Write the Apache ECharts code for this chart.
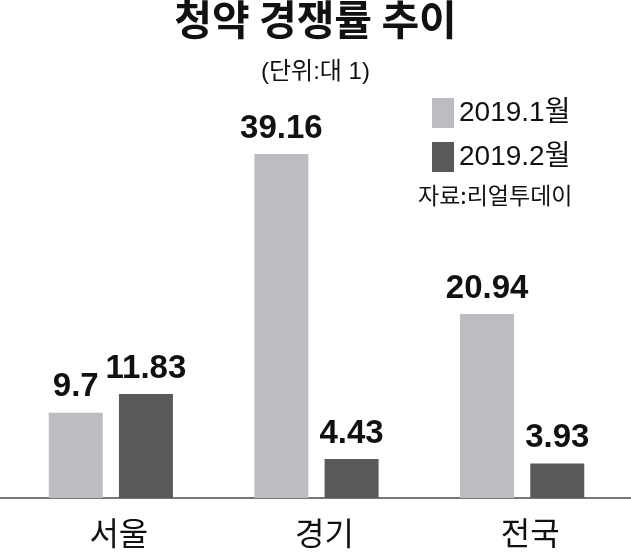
<!DOCTYPE html>
<html><head><meta charset="utf-8">
<script src="https://cdn.jsdelivr.net/npm/echarts@6/dist/echarts.min.js"></script>
<style>html,body{margin:0;padding:0;background:#fff}#c{width:631px;height:553px}</style>
</head><body><div id="c"></div>
<script>
const categories = ['서울', '경기', '전국'];
const seriesNames = ['2019.1월', '2019.2월'];
const jan = [9.7, 39.16, 20.94];
const feb = [11.83, 4.43, 3.93];

const KR = '"Noto Sans CJK KR", "Noto Sans", sans-serif';
const NUM = '"Liberation Sans", Arial, sans-serif';

const chart = echarts.init(document.getElementById('c'), null, {renderer: 'canvas'});
const labelStyle = {
  show: true, position: 'top', distance: 9,
  fontFamily: NUM, fontWeight: 'bold', fontSize: 33, color: '#111'
};
chart.setOption({
  animation: false,
  backgroundColor: '#fff',
  title: [
    {text: '청약 경쟁률 추이', left: 'center', top: -6,
     textStyle: {fontFamily: KR, fontWeight: 'bold', fontSize: 41, color: '#111'}},
    {text: '(단위:대 1)', left: 'center', top: 55,
     textStyle: {fontFamily: NUM + ',' + KR, fontWeight: 'normal', fontSize: 24, color: '#111'}},
    {text: '자료:리얼투데이', left: 413, top: 179,
     textStyle: {fontFamily: KR, fontWeight: 'normal', fontSize: 23, color: '#111'}}
  ],
  legend: {
    orient: 'vertical', left: 427, top: 93,
    itemWidth: 22, itemHeight: 30, itemGap: 14,
    data: seriesNames,
    textStyle: {fontFamily: NUM + ',' + KR, fontSize: 28, color: '#111', padding: [0, 0, 0, 0]},
    icon: 'rect'
  },
  grid: [
    {left: 8, right: 6, top: 100, bottom: 55},
    {left: 0, right: 0, top: 100, bottom: 55}
  ],
  xAxis: [
    {type: 'category', data: categories, gridIndex: 0,
     axisLine: {show: false}, axisTick: {show: false},
     axisLabel: {margin: 19, fontFamily: KR, fontSize: 32, color: '#111', padding: [0, 0, 0, 16]}},
    {type: 'value', gridIndex: 1, min: 0, max: 1,
     axisLine: {show: true, onZero: false, lineStyle: {color: '#777', width: 2}},
     axisTick: {show: false}, axisLabel: {show: false}, splitLine: {show: false}}
  ],
  yAxis: [
    {type: 'value', gridIndex: 0, min: 0, max: 45.3, show: false, splitLine: {show: false}},
    {type: 'value', gridIndex: 1, show: false, splitLine: {show: false}}
  ],
  series: [
    {name: seriesNames[0], type: 'bar', data: jan, barWidth: 54, barGap: '30%',
     itemStyle: {color: '#bcbdc0'}, label: labelStyle, z: 3},
    {name: seriesNames[1], type: 'bar', data: feb, barWidth: 54,
     itemStyle: {color: '#59595b'}, label: labelStyle, z: 3}
  ]
});
</script></body></html>
